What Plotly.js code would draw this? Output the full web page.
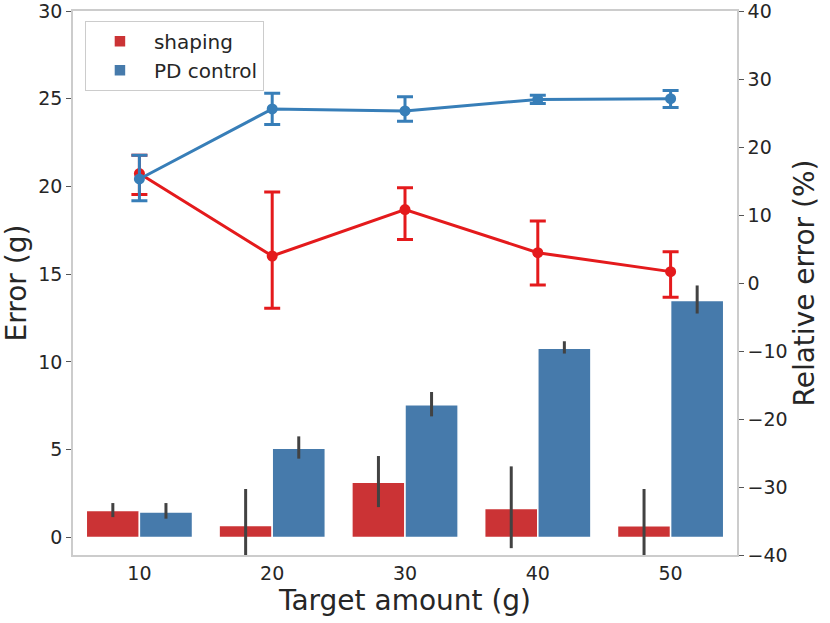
<!DOCTYPE html>
<html>
<head>
<meta charset="utf-8">
<script src="https://cdn.plot.ly/plotly-3.0.1.min.js"></script>
<style>
  body { margin: 0; background: #fff; }
  #chart { width: 830px; height: 623px; }
</style>
</head>
<body>
<div id="chart"></div>
<script>
// target amounts (categories)
var targets = ['10', '20', '30', '40', '50'];

// absolute error (g), bars, left axis
var shapingErr   = [1.54, 0.68, 3.14, 1.65, 0.66];
var shapingErrLo = [1.16, -1.4, 1.73, -0.61, -1.4];
var shapingErrHi = [1.96, 2.76, 4.64, 4.05, 2.76];
var pdErr   = [1.45, 5.08, 7.56, 10.78, 13.5];
var pdErrLo = [1.07, 4.49, 6.9, 10.48, 12.76];
var pdErrHi = [1.96, 5.76, 8.29, 11.18, 14.36];

// relative error (%), lines, right axis
var shapingRel   = [16.1, 3.97, 10.8, 4.46, 1.67];
var shapingRelLo = [13.0, -3.7, 6.4, -0.3, -2.1];
var shapingRelHi = [18.8, 13.4, 14.0, 9.1, 4.6];
var pdRel   = [15.3, 25.6, 25.3, 27.0, 27.1];
var pdRelLo = [12.1, 23.3, 23.8, 26.4, 25.8];
var pdRelHi = [18.8, 27.9, 27.4, 27.6, 28.3];

function plus(m, hi){ return m.map(function(v, i){ return hi[i] - v; }); }
function minus(m, lo){ return m.map(function(v, i){ return v - lo[i]; }); }

var textCol = '#262626';
var spineCol = '#cccccc';

//bars
var barShaping = {
  x: targets, y: shapingErr, type: 'bar', name: 'shaping',
  marker: {color: '#cb3335', line: {color: '#ffffff', width: 1.5}},
  error_y: {type: 'data', symmetric: false, array: plus(shapingErr, shapingErrHi),
            arrayminus: minus(shapingErr, shapingErrLo), color: '#424242', thickness: 3, width: 0}
};
var barPD = {
  x: targets, y: pdErr, type: 'bar', name: 'PD control',
  marker: {color: '#467aab', line: {color: '#ffffff', width: 1.5}},
  error_y: {type: 'data', symmetric: false, array: plus(pdErr, pdErrHi),
            arrayminus: minus(pdErr, pdErrLo), color: '#424242', thickness: 3, width: 0}
};

//lines
var lineShaping = {
  x: targets, y: shapingRel, yaxis: 'y2', type: 'scatter', mode: 'lines+markers',
  showlegend: false, line: {color: '#e41a1c', width: 3}, marker: {color: '#e41a1c', size: 11},
  error_y: {type: 'data', symmetric: false, array: plus(shapingRel, shapingRelHi),
            arrayminus: minus(shapingRel, shapingRelLo), color: '#e41a1c', thickness: 3, width: 8}
};
var linePD = {
  x: targets, y: pdRel, yaxis: 'y2', type: 'scatter', mode: 'lines+markers',
  showlegend: false, line: {color: '#377eb8', width: 3}, marker: {color: '#377eb8', size: 11},
  error_y: {type: 'data', symmetric: false, array: plus(pdRel, pdRelHi),
            arrayminus: minus(pdRel, pdRelLo), color: '#377eb8', thickness: 3, width: 8}
};

var layout = {
  width: 830, height: 623,
  margin: {l: 73, r: 93, t: 11, b: 68},
  paper_bgcolor: '#ffffff', plot_bgcolor: '#ffffff',
  font: {family: 'DejaVu Sans', size: 19, color: textCol},
  barmode: 'group', bargap: 0.2, bargroupgap: 0,
  showlegend: true,
  legend: {x: 0.018, y: 0.982, xanchor: 'left', yanchor: 'top',
           bgcolor: 'rgba(255,255,255,0.8)', bordercolor: spineCol, borderwidth: 1,
           font: {size: 20, color: textCol}, traceorder: 'normal', itemwidth: 58},
  xaxis: {type: 'category', range: [-0.5, 4.5], showgrid: false, zeroline: false,
          showline: true, mirror: true, linecolor: spineCol, linewidth: 1.5,
          ticks: '', tickfont: {size: 19}, automargin: false,
          title: {text: 'Target amount (g)', font: {size: 28}, standoff: 4}},
  yaxis: {range: [-1, 30], dtick: 5, showgrid: false, zeroline: false,
          showline: true, linecolor: spineCol, linewidth: 1.5, automargin: false,
          ticks: 'outside', ticklen: 5, tickcolor: '#555555', tickfont: {size: 19},
          ticklabeloverflow: 'allow',
          title: {text: 'Error (g)', font: {size: 28}, standoff: 8}},
  yaxis2: {overlaying: 'y', side: 'right', range: [-40, 40], dtick: 10, automargin: false,
           showgrid: false, zeroline: false, showline: true, linecolor: spineCol, linewidth: 1.5,
           ticks: 'outside', ticklen: 5, tickcolor: '#555555', tickfont: {size: 19},
           ticklabeloverflow: 'allow',
           title: {text: 'Relative error (%)', font: {size: 28}, standoff: 6}}
};

Plotly.newPlot('chart', [barShaping, barPD, lineShaping, linePD], layout, {displayModeBar: false});
</script>
</body>
</html>
